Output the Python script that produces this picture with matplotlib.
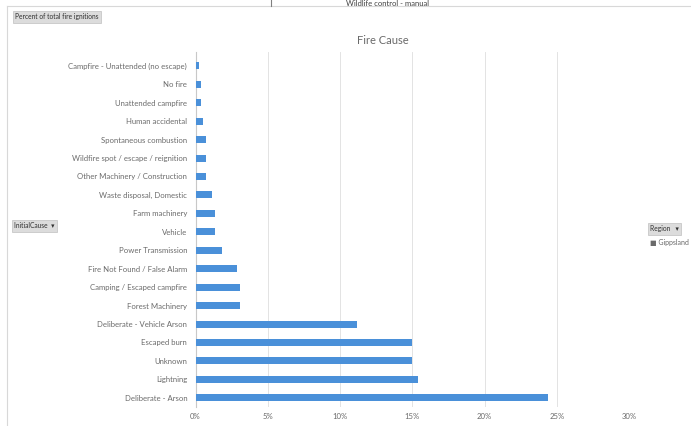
import matplotlib.pyplot as plt
from matplotlib.ticker import FuncFormatter

# categories from bottom to top (as drawn)
causes = [
    'Deliberate - Arson', 'Lightning', 'Unknown', 'Escaped burn',
    'Deliberate - Vehicle Arson', 'Forest Machinery', 'Camping / Escaped campfire',
    'Fire Not Found / False Alarm', 'Power Transmission', 'Vehicle',
    'Farm machinery', 'Waste disposal, Domestic', 'Other Machinery / Construction',
    'Wildfire spot / escape / reignition', 'Spontaneous combustion',
    'Human accidental', 'Unattended campfire', 'No fire',
    'Campfire - Unattended (no escape)',
]
# percent of total fire ignitions, Gippsland
pct = [24.4, 15.4, 14.95, 14.95, 11.15, 3.05, 3.05, 2.85, 1.8, 1.33,
       1.33, 1.17, 0.71, 0.71, 0.71, 0.55, 0.41, 0.41, 0.23]
xticks = [0, 5, 10, 15, 20, 25, 30]

plt.rcParams['font.family'] = ['Lato', 'DejaVu Sans']
grey = '#6a6a6a'
blue = '#4a90d9'

fig = plt.figure(figsize=(6.91, 4.26), dpi=100)
ax = fig.add_axes([195.5 / 691, 1 - 407 / 426, (629 - 195.5) / 691, (407 - 52) / 426])

ax.barh(range(len(causes)), pct, height=0.38, color=blue, zorder=3)
ax.set_xlim(0, 30)
ax.set_ylim(-0.5, 18.75)
ax.set_xticks(xticks)
ax.xaxis.set_major_formatter(FuncFormatter(lambda v, p: f'{v:.0f}%'))
ax.set_yticks(range(len(causes)))
ax.set_yticklabels(causes)
ax.tick_params(axis='both', length=0, labelsize=5.6, colors=grey)
ax.tick_params(axis='x', pad=4)
ax.tick_params(axis='y', pad=6)
ax.grid(axis='x', color='#e3e3e3', linewidth=0.7, zorder=0)
for s in ['top', 'right', 'bottom']:
    ax.spines[s].set_visible(False)
ax.spines['left'].set_color('#c8c8c8')
ax.spines['left'].set_linewidth(0.8)

fig.text(383 / 691, 1 - 40 / 426, 'Fire Cause', ha='center', va='center',
         fontsize=8, color=grey)

# frame lines of the pivot chart area
fig.add_artist(plt.Line2D([7 / 691, 7 / 691], [0, 1 - 6 / 426], color='#d8d8d8', lw=0.8))
fig.add_artist(plt.Line2D([7 / 691, 1], [1 - 6 / 426, 1 - 6 / 426], color='#d8d8d8', lw=0.8))
fig.add_artist(plt.Line2D([271 / 691, 271 / 691], [1 - 6 / 426, 1], color='#808080', lw=0.8))
fig.text(388 / 691, 1 - 0.5 / 426, 'Wildlife control - manual', ha='center', va='top',
         fontsize=5.5, color='#404040')

# pivot field buttons
btn = dict(boxstyle='square,pad=0.35', fc='#dcdcdc', ec='#c0c0c0', lw=0.5)
fig.text(15 / 691, 1 - 17 / 426, 'Percent of total fire ignitions', fontsize=4.8,
         color='#303030', va='center', bbox=btn)
fig.text(14 / 691, 1 - 226 / 426, 'InitialCause  \u25be', fontsize=4.8,
         color='#303030', va='center', bbox=btn)
fig.text(650 / 691, 1 - 229 / 426, 'Region   \u25be', fontsize=4.8,
         color='#303030', va='center', bbox=btn)
fig.text(650 / 691, 1 - 243 / 426, '\u25a0 Gippsland', fontsize=5,
         color=grey, va='center')

fig.savefig('out.png', dpi=100, facecolor='white')
